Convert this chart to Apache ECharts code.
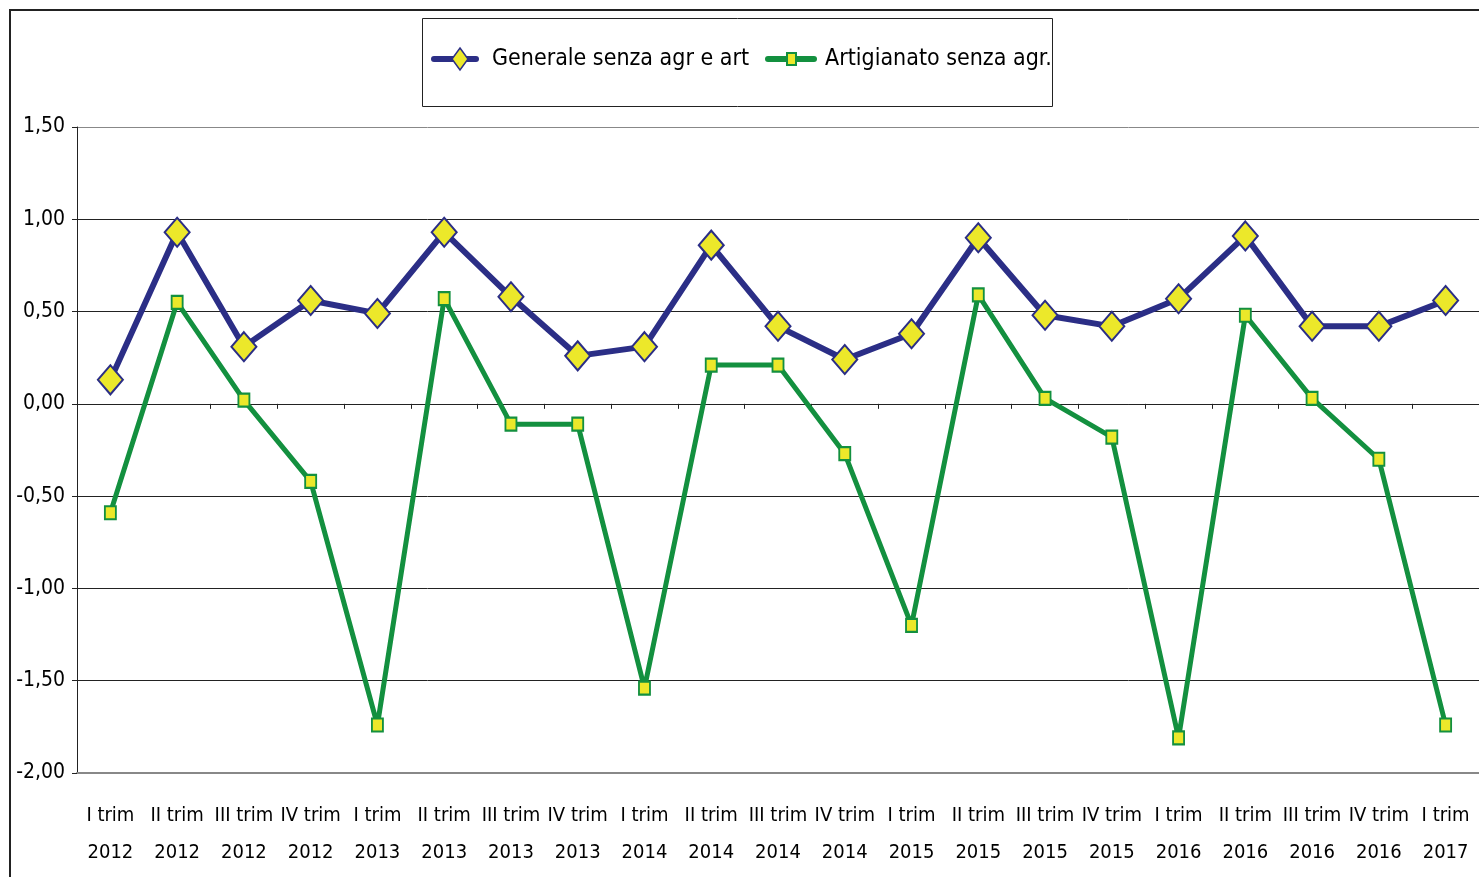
<!DOCTYPE html>
<html>
<head>
<meta charset="utf-8">
<script src="https://cdn.jsdelivr.net/npm/echarts@6/dist/echarts.min.js"></script>
<style>
  html, body { margin: 0; padding: 0; background: #fff; }
  #chart { width: 1479px; height: 877px; }
</style>
</head>
<body>
<div id="chart"></div>
<script>
var FONT = "'Liberation Sans Narrow', 'DejaVu Sans Condensed', 'Liberation Sans', sans-serif";

var categories = [
  'I trim\n2012', 'II trim\n2012', 'III trim\n2012', 'IV trim\n2012',
  'I trim\n2013', 'II trim\n2013', 'III trim\n2013', 'IV trim\n2013',
  'I trim\n2014', 'II trim\n2014', 'III trim\n2014', 'IV trim\n2014',
  'I trim\n2015', 'II trim\n2015', 'III trim\n2015', 'IV trim\n2015',
  'I trim\n2016', 'II trim\n2016', 'III trim\n2016', 'IV trim\n2016',
  'I trim\n2017'
];
var generale = [0.13, 0.93, 0.31, 0.56, 0.49, 0.93, 0.58, 0.26, 0.31, 0.86, 0.42,
  0.24, 0.38, 0.90, 0.48, 0.42, 0.57, 0.91, 0.42, 0.42, 0.56];
var artigianato = [-0.59, 0.55, 0.02, -0.42, -1.74, 0.57, -0.11, -0.11, -1.54, 0.21, 0.21,
  -0.27, -1.20, 0.59, 0.03, -0.18, -1.81, 0.48, 0.03, -0.30, -1.74];
var seriesNames = ['Generale senza agr e art', 'Artigianato senza agr.'];

var navy = '#2b2e86';
var green = '#13903f';
var yellow = '#ece82a';

// legend drawn by hand so the icons match the original (thick line + marker)
var legendGraphic = [
  { type: 'rect', shape: { x: 422.5, y: 18.5, width: 630, height: 88 },
    style: { fill: null, stroke: '#222', lineWidth: 1 } },
  { type: 'line', shape: { x1: 434, y1: 59, x2: 476, y2: 59 },
    style: { stroke: navy, lineWidth: 6, lineCap: 'round' } },
  { type: 'polygon', shape: { points: [[460, 48], [468, 59], [460, 70], [452, 59]] },
    style: { fill: yellow, stroke: navy, lineWidth: 1.5 } },
  { type: 'text', x: 492, y: 59,
    style: { text: seriesNames[0], font: '23px ' + FONT, fill: '#000', verticalAlign: 'middle' } },
  { type: 'line', shape: { x1: 768, y1: 59, x2: 814, y2: 59 },
    style: { stroke: green, lineWidth: 6, lineCap: 'round' } },
  { type: 'rect', shape: { x: 787, y: 53, width: 9, height: 12 },
    style: { fill: yellow, stroke: green, lineWidth: 2 } },
  { type: 'text', x: 825, y: 59,
    style: { text: seriesNames[1], font: '23px ' + FONT, fill: '#000', verticalAlign: 'middle' } }
];

var chart = echarts.init(document.getElementById('chart'));
chart.setOption({
  animation: false,
  textStyle: { fontFamily: FONT },
  graphic: [
    { type: 'rect', shape: { x: 10, y: 10, width: 1490, height: 890 },
      style: { fill: null, stroke: '#222', lineWidth: 2 } }
  ].concat(legendGraphic),
  grid: { left: 77, top: 127, right: -5, bottom: 104, containLabel: false },
  xAxis: [{
    type: 'category',
    data: categories,
    position: 'bottom',
    axisLine: { onZero: false, lineStyle: { color: '#888', width: 2 } },
    axisTick: { show: false },
    axisLabel: { fontFamily: FONT, fontSize: 20, color: '#000', margin: 24, lineHeight: 37, interval: 0 },
    splitLine: { show: false }
  }, {
    type: 'category',
    data: categories,
    position: 'bottom',
    axisLine: { onZero: true, lineStyle: { color: '#222', width: 1 } },
    axisTick: { show: true, length: 5, inside: false, lineStyle: { color: '#222' } },
    axisLabel: { show: false },
    splitLine: { show: false }
  }],
  yAxis: {
    type: 'value',
    min: -2, max: 1.5, interval: 0.5,
    axisLine: { show: true, lineStyle: { color: '#222', width: 1 } },
    axisTick: { show: true, length: 5, lineStyle: { color: '#222' } },
    axisLabel: {
      fontFamily: FONT, fontSize: 21, color: '#000', margin: 12,
      formatter: function (v) { return v.toFixed(2).replace('.', ','); }
    },
    splitLine: {
      show: true,
      lineStyle: { color: ['#888', '#222', '#222', '#222', '#222', '#222', '#222', '#888'], width: 1 }
    }
  },
  series: [{
    name: seriesNames[0],
    type: 'line',
    data: generale,
    symbol: 'diamond',
    symbolSize: [25, 29],
    lineStyle: { color: navy, width: 6 },
    itemStyle: { color: yellow, borderColor: navy, borderWidth: 2 },
    z: 3
  }, {
    name: seriesNames[1],
    type: 'line',
    data: artigianato,
    symbol: 'rect',
    symbolSize: [11, 13],
    lineStyle: { color: green, width: 5 },
    itemStyle: { color: yellow, borderColor: green, borderWidth: 2 },
    z: 2
  }]
});
</script>
</body>
</html>
